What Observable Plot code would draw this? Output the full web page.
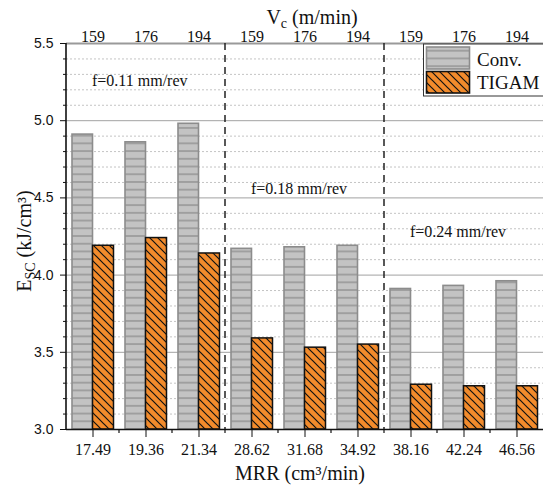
<!DOCTYPE html>
<html><head><meta charset="utf-8">
<script src="https://cdn.jsdelivr.net/npm/d3@7"></script>
<script src="https://cdn.jsdelivr.net/npm/@observablehq/plot@0.6"></script>
<style>body{margin:0;background:#fff} svg{display:block}</style>
</head><body><div id="chart"></div>
<script>
// ---- data ----
const mrr = ["17.49","19.36","21.34","28.62","31.68","34.92","38.16","42.24","46.56"];
const vc = ["159","176","194","159","176","194","159","176","194"];
const conv = [4.91,4.86,4.98,4.17,4.18,4.19,3.91,3.93,3.96];
const tigam = [4.19,4.24,4.14,3.59,3.53,3.55,3.29,3.28,3.28];
const feedLabels = ["f=0.11 mm/rev","f=0.18 mm/rev","f=0.24 mm/rev"];
const feedAt = ["17.49","28.62","38.16"];
const feedY = [5.255,4.56,4.28];
const groupStarts = ["28.62","38.16"];
const majorTicks = [3.0,3.5,4.0,4.5,5.0,5.5];
const minorTicks = d3.range(31,55).filter(v => v % 5 !== 0).map(v => v/10);

const rows = mrr.map((m,i) => ({mrr:m, vc:vc[i], conv:conv[i], tigam:tigam[i]}));
const feeds = feedLabels.map((l,i) => ({label:l, at:feedAt[i], y:feedY[i]}));

const serif = "Liberation Serif";
const sans = "Liberation Sans";

const chart = Plot.plot({
  width: 543, height: 486,
  marginLeft: 66, marginRight: 0, marginTop: 43, marginBottom: 57,
  style: {fontFamily: serif, fontSize: "16px", background: "white", overflow: "visible", color: "#111"},
  x: {type: "band", domain: mrr, padding: 0, label: null},
  y: {domain: [3, 5.5], label: null},
  marks: [
    Plot.ruleY(minorTicks, {stroke: "#c4c4c4", strokeDasharray: "2,2", strokeWidth: 1}),
    Plot.ruleY([3.5,4,4.5,5], {stroke: "#a2a2a2", strokeWidth: 1}),
    Plot.ruleY([5.5], {stroke: "#9a9a9a", strokeWidth: 2}),
    Plot.barY(rows, {x: "mrr", y1: 3, y2: "conv", fill: "url(#convPat)", stroke: "#8c8c8c", strokeWidth: 1.6, insetLeft: 6, insetRight: 26.5}),
    Plot.barY(rows, {x: "mrr", y1: 3, y2: "tigam", fill: "url(#tigPat)", stroke: "#111", strokeWidth: 1.5, insetLeft: 26.5, insetRight: 5.5}),
    Plot.ruleY([3], {stroke: "#111", strokeWidth: 1.5}),
    Plot.axisX({tickSize: 8, tickPadding: 6, fontSize: 16, fontFamily: serif, label: null, stroke: "#111"}),
    Plot.axisY({ticks: majorTicks, tickFormat: d3.format(".1f"), tickSize: 6, tickPadding: 7, fontSize: 14, fontFamily: sans, label: null, stroke: "#111"}),
    Plot.axisY({ticks: minorTicks, tickFormat: () => "", tickSize: 3, label: null, stroke: "#111"}),
    Plot.text(rows, {x: "mrr", y: 5.5, text: "vc", dy: -7, fontSize: 16, fontFamily: serif}),
    Plot.text(feeds, {x: "at", y: "y", text: "label", textAnchor: "start", dx: -1, fontSize: 16, fontFamily: serif})
  ]
});

document.getElementById("chart").appendChild(chart);

const svg = d3.select(chart);
svg.selectAll('[aria-label="x-axis tick label"]').attr("font-family", serif).selectAll("text").attr("font-family", serif);
const xs = chart.scale("x"), ys = chart.scale("y");
const yBottom = ys.apply(3), yTop = ys.apply(5.5);
const xLeft = xs.range[0];

// patterns
const defs = svg.insert("defs", ":first-child");
const step = ys.apply(3) - ys.apply(3.05);
const pc = defs.append("pattern").attr("id", "convPat").attr("patternUnits", "userSpaceOnUse")
  .attr("width", 10).attr("height", step).attr("y", yBottom - step/2);
pc.append("rect").attr("width", 10).attr("height", step).attr("fill", "#c3c3c3");
pc.append("line").attr("x1", 0).attr("x2", 10).attr("y1", step/2).attr("y2", step/2)
  .attr("stroke", "#8e8e8e").attr("stroke-width", 1.3);
const pt = defs.append("pattern").attr("id", "tigPat").attr("patternUnits", "userSpaceOnUse")
  .attr("width", 8).attr("height", 8);
pt.append("rect").attr("width", 8).attr("height", 8).attr("fill", "#f28b2c");
pt.append("path").attr("d", "M-2,-2L10,10M-2,6L2,10M6,-2L10,2")
  .attr("stroke", "#111").attr("stroke-width", 1.2);

const over = svg.append("g").attr("text-anchor", "start");
// left axis line
over.append("line").attr("x1", xLeft).attr("x2", xLeft).attr("y1", yTop).attr("y2", yBottom + 0.75)
  .attr("stroke", "#111").attr("stroke-width", 1.6);
// minor x ticks at band boundaries
mrr.slice(1).forEach(m => {
  const x = xs.apply(m);
  over.append("line").attr("x1", x).attr("x2", x).attr("y1", yBottom).attr("y2", yBottom + 4)
    .attr("stroke", "#111").attr("stroke-width", 1.2);
});
// dashed separators
groupStarts.forEach(m => {
  const x = xs.apply(m);
  over.append("line").attr("x1", x).attr("x2", x).attr("y1", yTop).attr("y2", yBottom)
    .attr("stroke", "#222").attr("stroke-width", 1.5).attr("stroke-dasharray", "7,5");
});

// legend
const lg = over.append("g");
lg.append("rect").attr("x", 423.5).attr("y", 44).attr("width", 130).attr("height", 52)
  .attr("fill", "white").attr("stroke", "#333").attr("stroke-width", 1);
lg.append("rect").attr("x", 426.5).attr("y", 47).attr("width", 43).attr("height", 22)
  .attr("fill", "url(#convPat)").attr("stroke", "#8c8c8c").attr("stroke-width", 1.6);
lg.append("rect").attr("x", 426.5).attr("y", 71.5).attr("width", 43).attr("height", 21.5)
  .attr("fill", "url(#tigPat)").attr("stroke", "#111").attr("stroke-width", 1.6);
lg.append("text").attr("x", 477).attr("y", 59).attr("dy", "0.35em").attr("font-size", 19)
  .attr("text-anchor", "start").attr("font-family", serif).attr("fill", "#111").text("Conv.");
lg.append("text").attr("x", 477).attr("y", 82).attr("dy", "0.35em").attr("font-size", 19)
  .attr("text-anchor", "start").attr("font-family", serif).attr("fill", "#111").text("TIGAM");

// titles
const t1 = over.append("text").attr("x", 312).attr("y", 17).attr("dy", "0.35em")
  .attr("text-anchor", "middle").attr("font-size", 20).attr("font-family", serif).attr("fill", "#111");
t1.append("tspan").text("V");
t1.append("tspan").attr("font-size", 14).attr("baseline-shift", "-25%").text("c");
t1.append("tspan").text(" (m/min)");

const t2 = over.append("text").attr("x", 300).attr("y", 473).attr("dy", "0.35em")
  .attr("text-anchor", "middle").attr("font-size", 20).attr("font-family", serif).attr("fill", "#111");
t2.text("MRR (cm³/min)");

const t3 = over.append("text").attr("transform", "translate(24,241) rotate(-90)").attr("dy", "0.35em")
  .attr("text-anchor", "middle").attr("font-size", 20).attr("font-family", serif).attr("fill", "#111");
t3.append("tspan").text("E");
t3.append("tspan").attr("font-size", 14).attr("baseline-shift", "-25%").text("SC");
t3.append("tspan").text(" (kJ/cm³)");
</script>
</body></html>
